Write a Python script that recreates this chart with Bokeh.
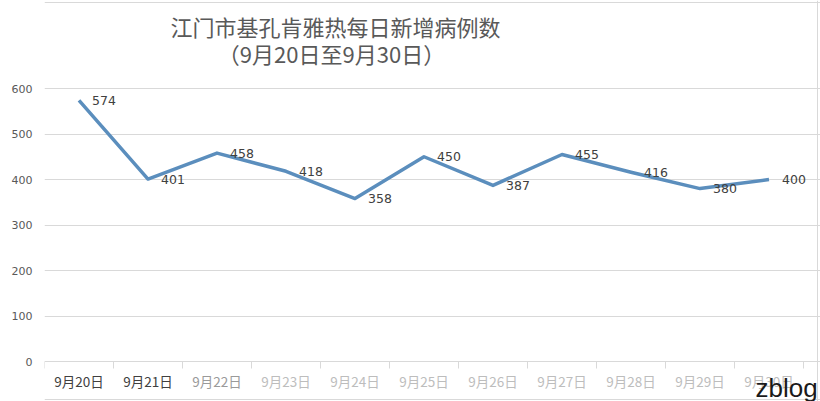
from bokeh.plotting import figure
from bokeh.models import (Range1d, FixedTicker, ColumnDataSource, LabelSet, Label, Span)
from bokeh.core.properties import value
from bokeh.embed import file_html
from bokeh.resources import INLINE

# ---- data ----
dates = ["9月20日", "9月21日", "9月22日", "9月23日", "9月24日", "9月25日",
         "9月26日", "9月27日", "9月28日", "9月29日", "9月30日"]
cases = [574, 401, 458, 418, 358, 450, 387, 455, 416, 380, 400]
y_ticks = [0, 100, 200, 300, 400, 500, 600]
title_line1 = "江门市基孔肯雅热每日新增病例数"
title_line2 = "（9月20日至9月30日）"
watermark = "zblog"

# styles
label_colors = ["#404040", "#404040", "#9a9a9a", "#bdbdbd", "#bdbdbd", "#bdbdbd",
                "#bdbdbd", "#bdbdbd", "#bdbdbd", "#bdbdbd", "#bdbdbd"]

n = len(dates)
xs = [i + 0.5 for i in range(n)]
bounds = list(range(n + 1))

# layout geometry (pixels)
W, H = 820, 401
left = 44                      # frame left
plot_w = 759                   # width of the 11 categories
px_per_unit = 273 / 600        # vertical pixels per case
y_high = 600 + 88 / px_per_unit
y_low = -40 / px_per_unit
x_per_px = n / plot_w
x_high = n + (W - left - plot_w) * x_per_px

p = figure(width=W, height=H, output_backend="svg", toolbar_location=None,
           x_range=Range1d(0, x_high), y_range=Range1d(y_low, y_high),
           min_border_left=left, min_border_right=0, min_border_top=0, min_border_bottom=0)
p.outline_line_color = None
p.background_fill_color = "white"
p.border_fill_color = "white"

# y axis
p.yaxis.ticker = FixedTicker(ticks=y_ticks)
p.yaxis.axis_line_color = None
p.yaxis.major_tick_line_color = None
p.yaxis.major_tick_out = 0
p.yaxis.major_tick_in = 0
p.yaxis.minor_tick_line_color = None
p.yaxis.major_label_standoff = 12
p.yaxis.major_label_text_font = "DejaVu Sans"
p.yaxis.major_label_text_font_size = "11px"
p.yaxis.major_label_text_color = "#595959"

p.xaxis.visible = False
p.xgrid.grid_line_color = None
p.ygrid.grid_line_color = "#d9d9d9"
p.ygrid.ticker = FixedTicker(ticks=y_ticks)
p.ygrid.bounds = (0, n)

# chart border (top, right, bottom)
p.add_layout(Span(location=600 + 86 / px_per_unit, dimension="width",
                  line_color="#d9d9d9", line_width=1))
p.add_layout(Span(location=-38 / px_per_unit, dimension="width",
                  line_color="#d9d9d9", line_width=1))
p.add_layout(Span(location=(817 - left) * x_per_px, dimension="height",
                  line_color="#d9d9d9", line_width=1))

# category boundary tick marks below the zero line
p.segment(x0=bounds, y0=[0] * len(bounds), x1=bounds,
          y1=[-7 / px_per_unit] * len(bounds), line_color="#d9d9d9", line_width=1)

src = ColumnDataSource(dict(x=xs, y=cases, t=[str(c) for c in cases],
                            d=dates, c=label_colors, yl=[-19 / px_per_unit] * n))

p.line("x", "y", source=src, line_width=3.5, line_color="#5B8EBD", line_join="round")

p.add_layout(LabelSet(x="x", y="y", text="t", source=src, x_offset=13,
                      text_baseline="middle", text_font=value("DejaVu Sans"),
                      text_font_size=value("12.5px"), text_color="#404040"))

p.add_layout(LabelSet(x="x", y="yl", text="d", source=src,
                      text_align="center", text_baseline="middle",
                      text_font=value("Noto Sans CJK SC"),
                      text_font_size=value("13.5px"), text_color="c"))

# titles
p.add_layout(Label(x=(335 - left) * x_per_px, y=600 + 63 / px_per_unit, text=title_line1,
                   text_align="center", text_baseline="middle",
                   text_font="Noto Sans CJK SC", text_font_size="22px", text_color="#595959"))
p.add_layout(Label(x=(331 - left) * x_per_px, y=600 + 36 / px_per_unit, text=title_line2,
                   text_align="center", text_baseline="middle",
                   text_font="Noto Sans CJK SC", text_font_size="22px", text_color="#595959"))

# watermark
p.add_layout(Label(x=(755 - left) * x_per_px, y=-26 / px_per_unit, text=watermark,
                   text_align="left", text_baseline="middle", text_font="Liberation Sans",
                   text_font_size="26px", text_color="#1a1a1a"))

open("out.html", "w").write(file_html(p, INLINE))
